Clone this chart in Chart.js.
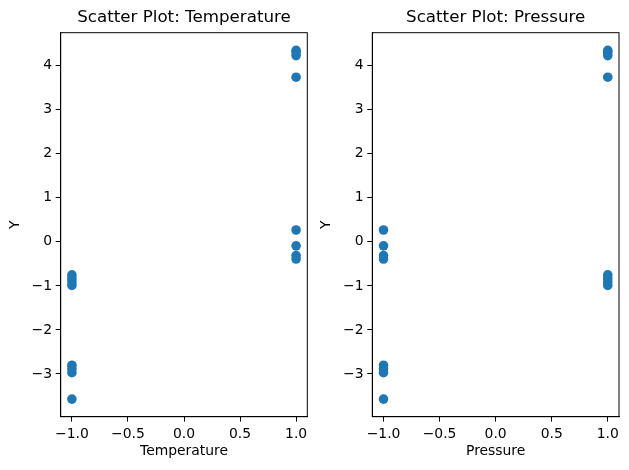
<!DOCTYPE html>
<html>
<head>
<meta charset="utf-8">
<script src="https://cdn.jsdelivr.net/npm/chart.js@4"></script>
<style>
  body { margin: 0; background: #fff; }
  .panel { position: absolute; top: 0; }
</style>
</head>
<body>
<div class="panel" style="left:0"><canvas id="left" width="314" height="470"></canvas></div>
<div class="panel" style="left:314px"><canvas id="right" width="315" height="470"></canvas></div>
<script>
// ---------- DATA ----------
const temperature = [1, 1, 1, 1, 1, 1, 1, 1, -1, -1, -1, -1, -1, -1, -1, -1];
const pressure    = [1, 1, 1, 1, -1, -1, -1, -1, 1, 1, 1, 1, -1, -1, -1, -1];
const yValues     = [4.35, 4.30, 4.23, 3.74, 0.27, -0.09, -0.31, -0.39,
                     -0.75, -0.83, -0.91, -0.99, -2.80, -2.88, -2.97, -3.57];
const xTicks = [-1, -0.5, 0, 0.5, 1];
const yTicks = [-3, -2, -1, 0, 1, 2, 3, 4];

const FONT = "'DejaVu Sans', sans-serif";
const minus = (s) => s.replace("-", "\u2212");

// ---------- PLUGINS ----------
const frameAndTitle = {
  id: "frameAndTitle",
  afterDraw(chart, args, opts) {
    const { ctx, chartArea: a } = chart;
    ctx.save();
    ctx.strokeStyle = "#000";
    ctx.lineWidth = 1;
    ctx.strokeRect(a.left, a.top, a.right - a.left, a.bottom - a.top);
    ctx.fillStyle = "#000";
    ctx.font = "16.7px " + FONT;
    ctx.textAlign = "center";
    ctx.textBaseline = "middle";
    ctx.fillText(opts.text, (a.left + a.right) / 2, 18);
    ctx.restore();
  }
};

// ---------- CHART ----------
function makeChart(id, xs, xName, yAxisW, padRight, yTitlePad) {
  const points = xs.map((x, i) => ({ x: x, y: yValues[i] }));
  return new Chart(document.getElementById(id), {
    type: "scatter",
    data: {
      datasets: [{
        data: points,
        backgroundColor: "#1f77b4",
        borderColor: "#1f77b4",
        borderWidth: 0,
        pointRadius: 4.8
      }]
    },
    options: {
      responsive: false,
      animation: false,
      layout: { padding: { top: 32.7, right: padRight, left: 0, bottom: 0 } },
      plugins: {
        legend: { display: false },
        tooltip: { enabled: false },
        frameAndTitle: { text: "Scatter Plot: " + xName }
      },
      scales: {
        x: {
          type: "linear",
          min: -1.1,
          max: 1.1,
          afterBuildTicks: (s) => { s.ticks = xTicks.map(v => ({ value: v })); },
          afterFit: (s) => { s.height = 53.3; },
          grid: { drawOnChartArea: false, drawTicks: true, tickLength: 5, tickColor: "#000" },
          border: { display: true, color: "#000" },
          ticks: {
            color: "#000",
            padding: 4.5,
            maxRotation: 0,
            font: { family: FONT, size: 13.9 },
            callback: (v) => minus(v.toFixed(1))
          },
          title: {
            display: true,
            text: xName,
            color: "#000",
            font: { family: FONT, size: 13.9 },
            padding: { top: 0, bottom: 10 }
          }
        },
        y: {
          type: "linear",
          min: -3.97,
          max: 4.75,
          afterBuildTicks: (s) => { s.ticks = yTicks.map(v => ({ value: v })); },
          afterFit: (s) => { s.width = yAxisW; },
          grid: { drawOnChartArea: false, drawTicks: true, tickLength: 5, tickColor: "#000" },
          border: { display: true, color: "#000" },
          ticks: {
            color: "#000",
            padding: 3.7,
            font: { family: FONT, size: 13.9 },
            callback: (v) => minus(String(v))
          },
          title: {
            display: true,
            text: "Y",
            color: "#000",
            font: { family: FONT, size: 13.9 },
            padding: { top: yTitlePad, bottom: 0 }
          }
        }
      }
    },
    plugins: [frameAndTitle]
  });
}

makeChart("left", temperature, "Temperature", 60.7, 6.7, 6.7);
makeChart("right", pressure, "Pressure", 58.3, 10, 3.7);
</script>
</body>
</html>
